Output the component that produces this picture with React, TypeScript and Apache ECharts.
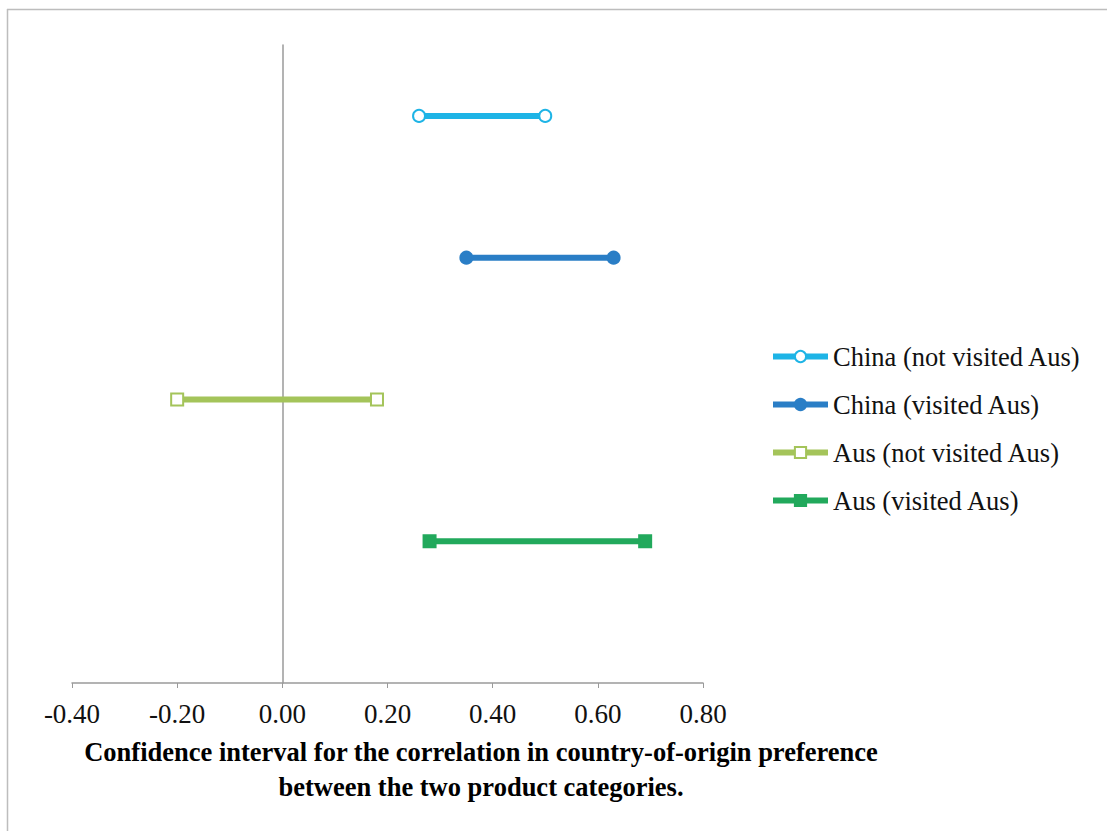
import React, { useEffect, useRef } from "react";
import * as echarts from "echarts";

const categories = [
  "China (not visited Aus)",
  "China (visited Aus)",
  "Aus (not visited Aus)",
  "Aus (visited Aus)",
];
const lowerBounds = [0.26, 0.35, -0.2, 0.28];
const upperBounds = [0.5, 0.63, 0.18, 0.69];
const rowPositions = [4, 3, 2, 1];
const seriesColors = ["#1EB4E6", "#2A7EC6", "#A4C45A", "#22A95C"];
const seriesSymbols = ["emptyCircle", "circle", "emptyRect", "rect"];
const xTicks = { min: -0.4, max: 0.8, interval: 0.2 };
const titleLines = [
  "Confidence interval for the correlation in country-of-origin preference",
  "between the two product categories.",
];

const FONT = "'Liberation Serif', 'Times New Roman', serif";

export default function App() {
  const ref = useRef<HTMLDivElement>(null);
  useEffect(() => {
    if (!ref.current) return;
    const chart = echarts.init(ref.current, undefined, { renderer: "svg" });
    const series = categories.map((name, i) => ({
      name,
      type: "line",
      data: [
        [lowerBounds[i], rowPositions[i]],
        [upperBounds[i], rowPositions[i]],
      ],
      symbol: seriesSymbols[i],
      symbolSize: 12,
      lineStyle: { width: 6, color: seriesColors[i] },
      itemStyle: {
        color: seriesColors[i],
        borderColor: seriesColors[i],
        borderWidth: 2,
      },
      z: 3,
    }));
    chart.setOption({
      animation: false,
      backgroundColor: "#ffffff",
      textStyle: { fontFamily: FONT },
      title: {
        text: titleLines.join("\n"),
        left: 476,
        top: 729,
        textAlign: "center",
        textStyle: {
          fontFamily: FONT,
          fontWeight: "bold",
          fontSize: 26.5,
          lineHeight: 35,
          color: "#000",
        },
      },
      legend: {
        orient: "vertical",
        left: 765,
        top: 337,
        itemWidth: 55,
        itemHeight: 14,
        itemGap: 19,
        data: categories,
        lineStyle: { width: 6 },
        textStyle: { fontFamily: FONT, fontSize: 26.5, color: "#111", lineHeight: 29 },
      },
      grid: { left: 72, right: 404, top: 45, bottom: 148 },
      xAxis: {
        type: "value",
        min: xTicks.min,
        max: xTicks.max,
        interval: xTicks.interval,
        splitLine: { show: false },
        axisLine: { lineStyle: { color: "#9a9a9a", width: 1.5 } },
        axisTick: { show: true, length: 5, lineStyle: { color: "#9a9a9a" } },
        axisLabel: {
          formatter: (v: number) => v.toFixed(2),
          fontFamily: FONT,
          fontSize: 27,
          color: "#111",
          margin: 17,
        },
      },
      yAxis: {
        type: "value",
        min: 0,
        max: 4.5,
        splitLine: { show: false },
        axisLine: { show: true, onZero: true, lineStyle: { color: "#9a9a9a", width: 1.5 } },
        axisTick: { show: false },
        axisLabel: { show: false },
      },
      graphic: [
        { type: "line", shape: { x1: 7, y1: 9.5, x2: 1107, y2: 9.5 }, style: { stroke: "#bdbdbd", lineWidth: 1.5 } },
        { type: "line", shape: { x1: 7.5, y1: 9, x2: 7.5, y2: 831 }, style: { stroke: "#bdbdbd", lineWidth: 1.5 } },
      ],
      series,
    });
    return () => chart.dispose();
  }, []);
  return (
    <div
      ref={ref}
      style={{ position: "fixed", left: 0, top: 0, width: 1107, height: 831 }}
    />
  );
}
